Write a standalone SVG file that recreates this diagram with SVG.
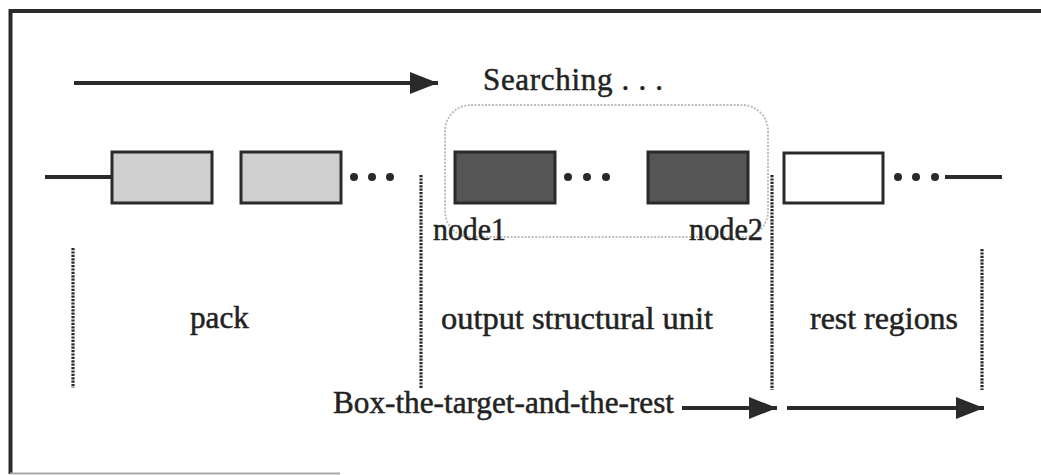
<svg xmlns="http://www.w3.org/2000/svg" width="1041" height="475" viewBox="0 0 1041 475">
  <style>
    .t { font-family: "Liberation Serif", "Times New Roman", serif; font-size: 31px; fill: #222222; stroke: #222222; stroke-width: 0.5; }
    .ln { stroke: #2a2a2a; stroke-width: 4; fill: none; }
    .dot { fill: #2a2a2a; }
    .vdot { stroke: #2a2a2a; stroke-width: 3.2; stroke-dasharray: 2.2 1.2; fill: none; }
    .light { fill: #cfcfcf; stroke: #2a2a2a; stroke-width: 3; }
    .dark { fill: #555555; stroke: #2a2a2a; stroke-width: 3; }
    .white { fill: #ffffff; stroke: #2a2a2a; stroke-width: 3; }
  </style>
  <defs>
    <marker id="ah" markerUnits="userSpaceOnUse" markerWidth="30" markerHeight="24" refX="28" refY="11" orient="auto">
      <path d="M0,0 L28,11 L0,22 Z" fill="#2a2a2a"/>
    </marker>
  </defs>
  <rect width="1041" height="475" fill="#ffffff"/>
  <g id="frame">
    <path d="M10.5,474 V11 H1041" fill="none" stroke="#2a2a2a" stroke-width="4"/>
    <line x1="10" y1="473.5" x2="340" y2="473.5" stroke="#a8a8a8" stroke-width="2"/>
  </g>
  <g id="structural-unit-region">
    <rect x="445" y="105" width="323" height="132" rx="26" ry="26" fill="none" stroke="#bdbdbd" stroke-width="2" stroke-dasharray="2 1.5"/>
  </g>
  <g id="connectors">
    <line class="ln" x1="74" y1="83" x2="438" y2="83" marker-end="url(#ah)"/>
    <line class="ln" x1="45" y1="177" x2="112" y2="177"/>
    <line class="ln" x1="945" y1="177" x2="1002" y2="177"/>
    <line class="ln" x1="682" y1="408" x2="777" y2="408" marker-end="url(#ah)"/>
    <line class="ln" x1="787" y1="408" x2="984" y2="408" marker-end="url(#ah)"/>
    <line class="vdot" x1="73" y1="248" x2="73" y2="388"/>
    <line class="vdot" x1="421" y1="175" x2="421" y2="388"/>
    <line class="vdot" x1="772" y1="175" x2="772" y2="390"/>
    <line class="vdot" x1="982" y1="249" x2="982" y2="390"/>
  </g>
  <g id="node-a"><rect class="light" x="112" y="152" width="100" height="51"/></g>
  <g id="node-b"><rect class="light" x="241" y="152" width="100" height="51"/></g>
  <g id="dots-1">
    <circle class="dot" cx="354" cy="177" r="4"/>
    <circle class="dot" cx="372" cy="177" r="4"/>
    <circle class="dot" cx="390" cy="177" r="4"/>
  </g>
  <g id="node1"><rect class="dark" x="455" y="152" width="100" height="51"/></g>
  <g id="dots-2">
    <circle class="dot" cx="568" cy="177" r="4"/>
    <circle class="dot" cx="587" cy="177" r="4"/>
    <circle class="dot" cx="606" cy="177" r="4"/>
  </g>
  <g id="node2"><rect class="dark" x="648" y="152" width="100" height="51"/></g>
  <g id="node-c"><rect class="white" x="784" y="153" width="99" height="50"/></g>
  <g id="dots-3">
    <circle class="dot" cx="898" cy="177" r="4"/>
    <circle class="dot" cx="916" cy="177" r="4"/>
    <circle class="dot" cx="935" cy="177" r="4"/>
  </g>
  <g id="labels">
    <text class="t" x="483" y="90" textLength="180" lengthAdjust="spacing">Searching . . .</text>
    <text class="t" x="433" y="240" textLength="73" lengthAdjust="spacingAndGlyphs">node1</text>
    <text class="t" x="689" y="240" textLength="74" lengthAdjust="spacingAndGlyphs">node2</text>
    <text class="t" x="190" y="328" textLength="59" lengthAdjust="spacingAndGlyphs">pack</text>
    <text class="t" x="441" y="329" textLength="272" lengthAdjust="spacingAndGlyphs">output structural unit</text>
    <text class="t" x="810" y="329" textLength="148" lengthAdjust="spacingAndGlyphs">rest regions</text>
    <text class="t" x="333" y="413" textLength="341" lengthAdjust="spacingAndGlyphs">Box-the-target-and-the-rest</text>
  </g>
</svg>
